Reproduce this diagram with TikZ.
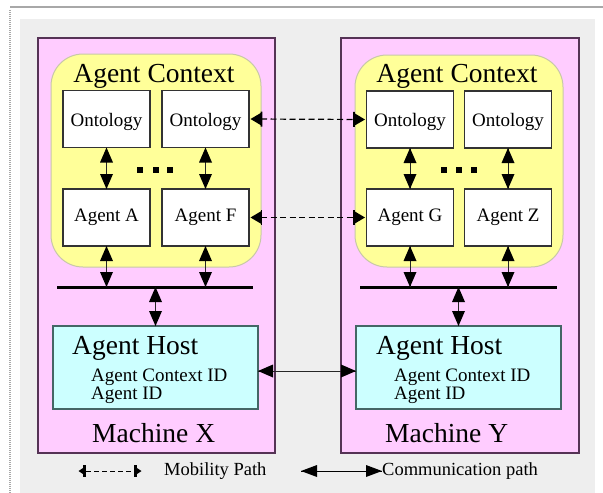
\documentclass[tikz,border=0pt]{standalone}
\usepackage{fontspec}
\setmainfont{Liberation Serif}
\usetikzlibrary{decorations.markings}

\definecolor{bggray}{HTML}{EEEEEE}
\definecolor{machpink}{HTML}{FFCCFF}
\definecolor{ctxyellow}{HTML}{FFFF99}
\definecolor{hostcyan}{HTML}{CCFFFF}
\definecolor{machedge}{HTML}{553355}
\definecolor{ctxedge}{HTML}{C8C8A8}
\definecolor{hostedge}{HTML}{446666}
\definecolor{framegray}{HTML}{A8A8A8}

\tikzset{
  machine/.style={draw=machedge, fill=machpink, line width=1.2pt,
    inner sep=0pt, outer sep=0pt, minimum width=237pt, minimum height=415pt},
  context/.style={draw=ctxedge, fill=ctxyellow, line width=1pt,
    rounded corners=32pt, inner sep=0pt, outer sep=0pt},
  box/.style={draw=black!80, fill=white, line width=1.1pt, inner sep=0pt,
    outer sep=0pt, minimum width=87pt, minimum height=57pt},
  ontobox/.style={box, text height=14pt, text depth=0pt},
  agentbox/.style={box, text height=8.4pt, text depth=0pt},
  host/.style={draw=hostedge, fill=hostcyan, line width=1.2pt, inner sep=0pt,
    outer sep=0pt, minimum width=205pt, minimum height=83pt},
  bigtext/.style={font=\fontsize{27.5}{30}\selectfont, inner sep=0pt},
  smalltext/.style={font=\fontsize{19}{21}\selectfont, inner sep=0pt},
  legendtext/.style={font=\fontsize{18.5}{21}\selectfont, inner sep=0pt},
  dotmark/.style={fill=black, inner sep=0pt, minimum size=6pt},
  % solid triangular heads at both ends: length, half width
  twoheads/.style 2 args={postaction={decorate, decoration={markings,
    mark=at position 0 with {\fill[black, solid] (0pt,0pt) -- (#1,#2) -- (#1,-#2) -- cycle;},
    mark=at position 1 with {\fill[black, solid] (0pt,0pt) -- (-#1,#2) -- (-#1,-#2) -- cycle;}}}},
  % triangle plus bar at both ends: gap, length, half width, half bar, bar width
  barheads/.style n args={5}{postaction={decorate, decoration={markings,
    mark=at position #1 with {\fill[black, solid] (0pt,0pt) -- (#2,#3) -- (#2,-#3) -- cycle;
      \draw[black, solid, line width=#5, shorten <=0pt, shorten >=0pt] (#2,#4) -- (#2,-#4);},
    mark=at position -#1 with {\fill[black, solid] (0pt,0pt) -- (-#2,#3) -- (-#2,-#3) -- cycle;
      \draw[black, solid, line width=#5, shorten <=0pt, shorten >=0pt] (-#2,#4) -- (-#2,-#4);}}}},
  link/.style={line width=0.9pt, draw=black!85, twoheads={15pt}{6.5pt}},
  mobility/.style={line width=1.2pt, dash pattern=on 6pt off 3.5pt,
    shorten <=12pt, shorten >=12pt,
    barheads={1.5pt}{11pt}{6.5pt}{7.5pt}{1.6pt}},
  bus/.style={line width=3pt},
}

\begin{document}
\begin{tikzpicture}[x=1pt, y=-1pt, font=\fontsize{19}{21}\selectfont]
  \useasboundingbox (0,0) rectangle (603,493);

  % page frame and background
  \fill[bggray] (20,19) rectangle (595,493);
  \draw[framegray, line width=1.5pt] (10,7) -- (603,7);
  \draw[framegray, line width=1.5pt, dash pattern=on 1pt off 1pt] (10,10) -- (10,493);

  % machines
  \node[machine] (machX) at (156.5,245.5) {};
  \node[machine, minimum width=238pt] (machY) at (460,245.5) {};

  % agent contexts
  \node[context, minimum width=210pt, minimum height=213pt] (ctxX) at (156,160.5) {};
  \node[context, minimum width=208pt, minimum height=212pt] (ctxY) at (459,161) {};
  \node[bigtext, anchor=base] (ctxXt) at (154,82) {Agent Context};
  \node[bigtext, anchor=base] (ctxYt) at (457,82) {Agent Context};

  % ontologies and agents, machine X
  \node[ontobox] (onX1) at (106.5,119) {Ontology};
  \node[ontobox] (onX2) at (205.5,119) {Ontology};
  \node[agentbox] (agA) at (106.5,217.5) {Agent A};
  \node[agentbox] (agF) at (205.5,217.5) {Agent F};

  % ontologies and agents, machine Y
  \node[ontobox] (onY1) at (410,119.5) {Ontology};
  \node[ontobox] (onY2) at (508,119.5) {Ontology};
  \node[agentbox] (agG) at (410,217.5) {Agent G};
  \node[agentbox] (agZ) at (508,217.5) {Agent Z};

  % ellipsis dots
  \node[dotmark] (dX1) at (140,170) {};
  \node[dotmark] (dX2) at (155.5,170) {};
  \node[dotmark] (dX3) at (170,170) {};
  \node[dotmark] (dY1) at (443.5,170) {};
  \node[dotmark] (dY2) at (459,170) {};
  \node[dotmark] (dY3) at (473.5,170) {};

  % buses
  \coordinate (busXw) at (57,287);
  \coordinate (busXe) at (253,287);
  \coordinate (busYw) at (360,287);
  \coordinate (busYe) at (557,287);
  \draw[bus] (busXw) -- (busXe);
  \draw[bus] (busYw) -- (busYe);

  % hosts
  \node[host] (hostX) at (155.5,367.5) {};
  \node[host] (hostY) at (458.5,367.5) {};
  \node[bigtext, anchor=base west] (hostXt) at (72,354) {Agent Host};
  \node[smalltext, anchor=base west] (hostXc) at (91,381) {Agent Context ID};
  \node[smalltext, anchor=base west] (hostXa) at (91,399) {Agent ID};
  \node[bigtext, anchor=base west] (hostYt) at (376,354) {Agent Host};
  \node[smalltext, anchor=base west] (hostYc) at (394,381) {Agent Context ID};
  \node[smalltext, anchor=base west] (hostYa) at (394,399) {Agent ID};

  % machine names
  \node[bigtext, anchor=base west] (machXt) at (92,442) {Machine X};
  \node[bigtext, anchor=base west] (machYt) at (385,442) {Machine Y};

  % links inside each machine
  \draw[link] (onX1.south) -- (agA.north);
  \draw[link] (onX2.south) -- (agF.north);
  \draw[link] (onY1.south) -- (agG.north);
  \draw[link] (onY2.south) -- (agZ.north);
  \draw[link] (agA.south) -- (agA.south |- busXw);
  \draw[link] (agF.south) -- (agF.south |- busXw);
  \draw[link] (agG.south) -- (agG.south |- busYw);
  \draw[link] (agZ.south) -- (agZ.south |- busYw);
  \draw[link] (hostX.north |- busXw) -- (hostX.north);
  \draw[link] (hostY.north |- busYw) -- (hostY.north);

  % communication between hosts
  \draw[link] ([yshift=-3.5pt]hostX.east) -- ([yshift=-3.5pt]hostY.west);

  % mobility paths
  \draw[mobility] (onX2.east) -- (onY1.west);
  \draw[mobility, line width=1pt] (agF.east) -- (agG.west);

  % legend
  \coordinate (lm1) at (78,471);
  \coordinate (lm2) at (142,471);
  \draw[line width=1pt, dash pattern=on 5pt off 3pt, shorten <=8pt, shorten >=8pt,
    barheads={0.5pt}{6pt}{4pt}{6pt}{2.8pt}] (lm1) -- (lm2);
  \node[legendtext, anchor=base west] (lmT) at (164,475.5) {Mobility Path};
  \coordinate (lc1) at (301,471);
  \node[legendtext, anchor=base west] (lcT) at (382,475.5) {Communication path};
  \draw[line width=1pt, twoheads={16pt}{6pt}] (lc1) -- (lc1 -| lcT.west);
\end{tikzpicture}
\end{document}
